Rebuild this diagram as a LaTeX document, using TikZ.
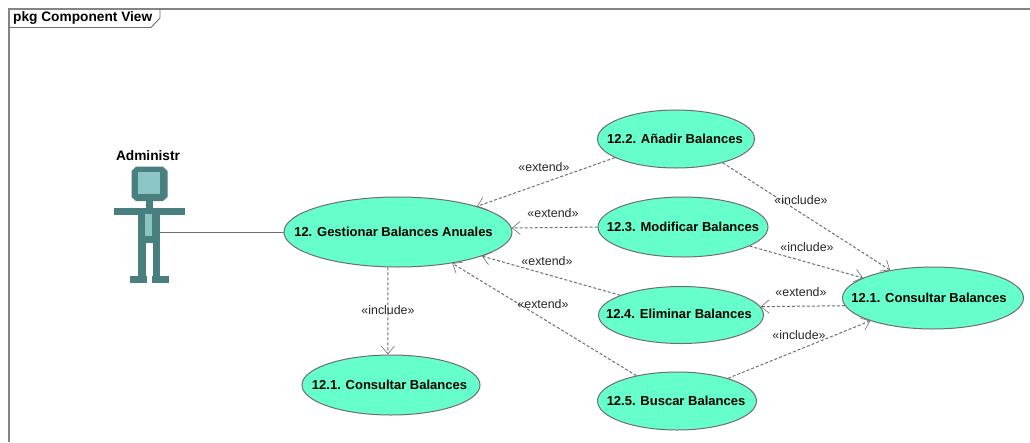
\documentclass[tikz,border=0pt]{standalone}
\usepackage{fontspec}
\setmainfont{Liberation Sans}
\usetikzlibrary{shapes.geometric,arrows.meta}
\definecolor{ucgreen}{HTML}{66FFCC}
\definecolor{actordark}{HTML}{4A7F80}
\definecolor{actorlight}{HTML}{8CC6C4}
\definecolor{linegray}{HTML}{6E6E6E}
\tikzset{
    usecase/.style={ellipse,draw=linegray,fill=ucgreen,line width=1pt,inner sep=0pt},
    stereo/.style={inner sep=0pt,font=\fontsize{12.4}{14}\selectfont,text=black!85},
    depends/.style={draw=linegray,line width=1pt,dash pattern=on 3pt off 2pt,
        -{Straight Barb[length=8pt,width=13pt,line width=0.6pt]}}
}
% text is wider than the ellipse would allow, so it gets no width of its own
\newcommand{\uctext}[2][0]{\makebox[0pt]{\hspace*{#1pt}\bfseries\fontsize{13}{15}\selectfont #2}}
\begin{document}
\begin{tikzpicture}[x=1pt,y=-1pt]
    \useasboundingbox (0,0) rectangle (1030,442);
    \fill[white] (0,0) rectangle (1030,442);

    % Package frame and tab
    \draw[linegray!85,line width=1.1pt] (9,442) -- (9,9) -- (1030,9);
    \draw[linegray,line width=0.9pt] (9,27.5) -- (151,27.5) -- (160,18) -- (160,9);
    \node[anchor=west,inner sep=0pt,font=\bfseries\fontsize{13.7}{15}\selectfont] (framelabel) at (13,18) {pkg Component View};

    % Actor
    \node[inner sep=0pt,font=\bfseries\fontsize{13.7}{15}\selectfont] (actorlabel) at (148,156) {Administr};
    \fill[actordark] (136,166.5) -- (163,166.5) -- (167.5,171) -- (167.5,197) -- (163,201) -- (136,201) -- (131.5,197) -- (131.5,171) -- cycle;
    \fill[actorlight] (138,172) rectangle (159.5,194);
    \fill[actordark] (145.7,201) rectangle (153.3,208); % neck
    \fill[actordark] (114,208) rectangle (184.7,215); % arms
    \fill[actordark] (138,215) rectangle (160,243);
    \fill[actorlight] (145.3,214) rectangle (152.3,236);
    \fill[actordark] (138,243) rectangle (145.5,276); % legs
    \fill[actordark] (152.7,243) rectangle (160,276);
    \fill[actordark] (130,276) rectangle (146.7,282.7); % feet
    \fill[actordark] (152.3,276) rectangle (168.7,282.7);
    \coordinate (actorbody) at (160,232);

    % Use cases
    \node[usecase,minimum width=228pt,minimum height=70pt] (gestionar) at (398,232) {\raisebox{1pt}{\uctext[-9]{12. Gestionar Balances Anuales}}};
    \node[usecase,minimum width=178pt,minimum height=60pt] (consultarA) at (391,385) {\uctext[-3]{12.1. Consultar Balances}};
    \node[usecase,minimum width=157pt,minimum height=58pt] (anadir) at (676,139) {\uctext[-2]{12.2. Añadir Balances}};
    \node[usecase,minimum width=170pt,minimum height=60pt] (modificar) at (683,227) {\uctext{12.3. Modificar Balances}};
    \node[usecase,minimum width=165pt,minimum height=57pt] (eliminar) at (681,315) {\raisebox{1.5pt}{\uctext[-4]{12.4. Eliminar Balances}}};
    \node[usecase,minimum width=159pt,minimum height=58pt] (buscar) at (677,401) {\uctext[-2]{12.5. Buscar Balances}};
    \node[usecase,minimum width=181pt,minimum height=62pt] (consultarB) at (933,298) {\uctext[-8]{12.1. Consultar Balances}};

    % Association
    \draw[linegray,line width=1pt] (actorbody) -- (gestionar.west);

    % Dependencies
    \draw[depends] (anadir.197) -- (gestionar.18);
    \draw[depends] (modificar.180.7) -- (gestionar.2);
    \draw[depends] (eliminar.162) -- (gestionar.-16);
    \draw[depends] (buscar.148) -- (gestionar.-30);
    \draw[depends] (gestionar.-106) -- (consultarA.96);
    \draw[depends] (anadir.-27) -- (consultarB.147.5);
    \draw[depends] (modificar.-16) -- (consultarB.164);
    \draw[depends] (consultarB.185.7) -- (eliminar.6.2);
    \draw[depends] (buscar.24) -- (consultarB.200);

    % Stereotype labels
    \node[stereo] (ext1) at (544,167) {«extend»};
    \node[stereo] (ext2) at (553,213) {«extend»};
    \node[stereo] (ext3) at (547,261) {«extend»};
    \node[stereo] (ext4) at (543,304) {«extend»};
    \node[stereo] (ext5) at (801,292) {«extend»};
    \node[stereo] (inc1) at (388,310) {«include»};
    \node[stereo] (inc2) at (801,200) {«include»};
    \node[stereo] (inc3) at (807,247) {«include»};
    \node[stereo] (inc4) at (799,335) {«include»};
\end{tikzpicture}
\end{document}
